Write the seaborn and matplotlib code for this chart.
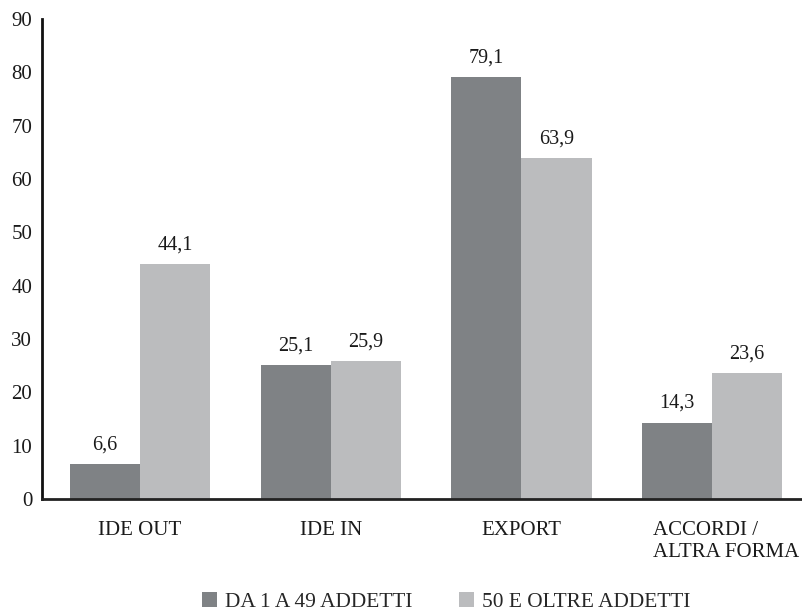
import matplotlib
matplotlib.use("Agg")
import matplotlib.pyplot as plt
import matplotlib.transforms as mtransforms
import seaborn as sns
import pandas as pd

categories = ["IDE OUT", "IDE IN", "EXPORT", "ACCORDI /\nALTRA FORMA"]
small_firms = [6.6, 25.1, 79.1, 14.3]
large_firms = [44.1, 25.9, 63.9, 23.6]
series_names = ["DA 1 A 49 ADDETTI", "50 E OLTRE ADDETTI"]
y_ticks = [0, 10, 20, 30, 40, 50, 60, 70, 80, 90]

sns.set_style("white")
plt.rcParams["font.family"] = ["Liberation Serif", "DejaVu Serif"]

df = pd.DataFrame({
    "categoria": categories * 2,
    "valore": small_firms + large_firms,
    "classe": [series_names[0]] * 4 + [series_names[1]] * 4,
})

fig = plt.figure(figsize=(8.03, 6.16), dpi=100)
ax = fig.add_axes([42 / 803, 1 - 499 / 616, 1 - 42 / 803, 480 / 616])

palette = {series_names[0]: "#7f8285", series_names[1]: "#bbbcbe"}
sns.barplot(data=df, x="categoria", y="valore", hue="classe", order=categories,
            hue_order=series_names, palette=palette, width=0.735, saturation=1,
            edgecolor="none", ax=ax, legend=True)

for container in ax.containers:
    ax.bar_label(container, labels=[f"{v:.1f}".replace(".", ",") for v in container.datavalues],
                 padding=7, fontsize=14.5, color="#1a1a1a")

ax.set_ylim(0, 90)
ax.set_xlim(-0.513, 3.476)
ax.set_yticks(y_ticks)
ax.set_xlabel("")
ax.set_ylabel("")
ax.tick_params(axis="both", length=0, labelsize=15, colors="#1a1a1a")
ax.tick_params(axis="y", pad=7)
ax.tick_params(axis="x", pad=16)

# the two-line label sits left-aligned, shifted a little to the right
last = ax.get_xticklabels()[3]
last.set_multialignment("left")
last.set_transform(last.get_transform()
                   + mtransforms.ScaledTranslation(14 / 100, 0, fig.dpi_scale_trans))

for side in ["top", "right"]:
    ax.spines[side].set_visible(False)
ax.spines["left"].set_linewidth(2)
ax.spines["left"].set_color("#111111")
ax.spines["bottom"].set_linewidth(2)
ax.spines["bottom"].set_color("#222222")

ax.legend(loc="lower center", bbox_to_anchor=(0.531, -0.263), ncol=2, frameon=False,
          fontsize=15.4, handlelength=0.7, handleheight=0.7, handletextpad=0.35,
          columnspacing=2.2, borderpad=0.1)

fig.savefig("out.png", dpi=100)
